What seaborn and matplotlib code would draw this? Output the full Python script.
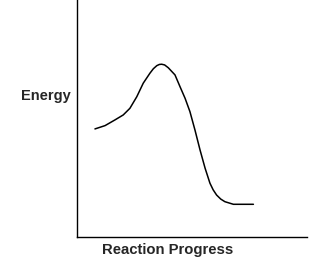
import matplotlib
matplotlib.use("Agg")
import matplotlib.pyplot as plt
import seaborn as sns
import pandas as pd

progress = [0.78, 1.22, 1.65, 2.01, 2.30, 2.60, 2.88, 3.17, 3.32, 3.47, 3.58, 3.68, 3.81, 3.97, 4.26,
            4.48, 4.70, 4.91, 5.13, 5.35, 5.57, 5.78, 5.92, 6.07, 6.25, 6.43, 6.80, 7.67]
energy = [4.56, 4.70, 4.94, 5.15, 5.43, 5.92, 6.49, 6.91, 7.10, 7.23, 7.28, 7.29, 7.26, 7.14, 6.84,
          6.34, 5.85, 5.29, 4.51, 3.67, 2.90, 2.27, 1.99, 1.77, 1.60, 1.49, 1.38, 1.38]
x_label = "Reaction Progress"
y_label = "Energy"

sns.set_style("white")
plt.rcParams['font.family'] = ['Liberation Sans', 'DejaVu Sans']

df = pd.DataFrame({"progress": progress, "energy": energy})

fig = plt.figure(figsize=(3.14, 2.64), dpi=100)
ax = fig.add_axes([77/314, 1 - 237/264, 230/314, 237/264])
sns.lineplot(data=df, x="progress", y="energy", estimator=None, sort=False,
             color="black", linewidth=1.1, ax=ax)
ax.set_xlim(0, 10)
ax.set_ylim(0, 10)
ax.set_xticks([])
ax.set_yticks([])
for s in ["top", "right"]:
    ax.spines[s].set_visible(False)
for s in ["left", "bottom"]:
    ax.spines[s].set_color("black")
    ax.spines[s].set_linewidth(1.0)

ax.set_ylabel(y_label, rotation=0, fontsize=10.5, fontweight="bold", ha="right", va="center")
ax.yaxis.set_label_coords(-0.027, 0.595)
ax.set_xlabel(x_label, fontsize=10.7, fontweight="bold", ha="center", va="center")
ax.xaxis.set_label_coords(0.396, -0.055)

fig.savefig("out.png", dpi=100)
